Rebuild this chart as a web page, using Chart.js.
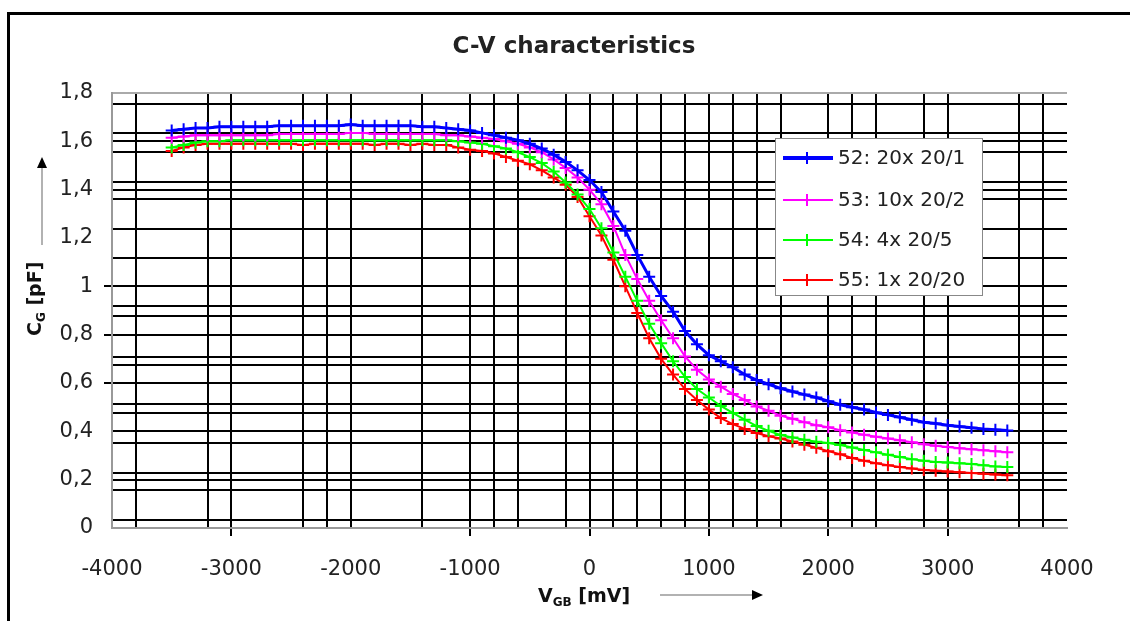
<!DOCTYPE html>
<html>
<head>
<meta charset="utf-8">
<script src="https://cdn.jsdelivr.net/npm/chart.js@4.4.1/dist/chart.umd.min.js"></script>
<style>
  html, body { margin: 0; padding: 0; background: #fff; overflow: hidden; }
  #frame { position: absolute; left: 7px; top: 12px; width: 2000px; height: 2000px;
           border-left: 3px solid #000; border-top: 3px solid #000; }
  #wrap { position: absolute; left: 0; top: 0; width: 1130px; height: 621px; }
</style>
</head>
<body>
<div id="frame"></div>
<div id="wrap"><canvas id="chart" width="1130" height="621"></canvas></div>
<script>
// gate-bulk voltage in mV
var vgb = [-3500, -3400, -3300, -3200, -3100, -3000, -2900, -2800, -2700, -2600,
  -2500, -2400, -2300, -2200, -2100, -2000, -1900, -1800, -1700, -1600,
  -1500, -1400, -1300, -1200, -1100, -1000, -900, -800, -700, -600,
  -500, -400, -300, -200, -100, 0, 100, 200, 300, 400,
  500, 600, 700, 800, 900, 1000, 1100, 1200, 1300, 1400,
  1500, 1600, 1700, 1800, 1900, 2000, 2100, 2200, 2300, 2400,
  2500, 2600, 2700, 2800, 2900, 3000, 3100, 3200, 3300, 3400, 3500];

// gate capacitance in pF
var c52 = [1.645, 1.65, 1.655, 1.655, 1.66, 1.66, 1.66, 1.66, 1.66, 1.665,
  1.665, 1.665, 1.665, 1.665, 1.665, 1.67, 1.665, 1.665, 1.665, 1.665,
  1.665, 1.66, 1.66, 1.655, 1.65, 1.645, 1.635, 1.625, 1.615, 1.605,
  1.59, 1.57, 1.545, 1.515, 1.48, 1.44, 1.39, 1.31, 1.23, 1.13,
  1.04, 0.96, 0.895, 0.815, 0.76, 0.715, 0.69, 0.665, 0.635, 0.612,
  0.595, 0.578, 0.565, 0.552, 0.54, 0.525, 0.51, 0.50, 0.49, 0.478,
  0.468, 0.458, 0.448, 0.438, 0.432, 0.425, 0.42, 0.415, 0.41, 0.407, 0.403];
var c53 = [1.615, 1.62, 1.625, 1.625, 1.625, 1.625, 1.625, 1.625, 1.625, 1.63,
  1.63, 1.63, 1.63, 1.63, 1.63, 1.635, 1.635, 1.63, 1.63, 1.63,
  1.63, 1.63, 1.63, 1.625, 1.625, 1.62, 1.615, 1.61, 1.60, 1.59,
  1.575, 1.555, 1.525, 1.49, 1.45, 1.40, 1.34, 1.25, 1.13, 1.03,
  0.94, 0.86, 0.785, 0.71, 0.655, 0.615, 0.585, 0.555, 0.53, 0.503,
  0.485, 0.465, 0.452, 0.438, 0.425, 0.417, 0.405, 0.395, 0.386, 0.378,
  0.37, 0.363, 0.355, 0.347, 0.34, 0.335, 0.33, 0.326, 0.322, 0.318, 0.313];
var c54 = [1.575, 1.585, 1.595, 1.60, 1.60, 1.605, 1.605, 1.605, 1.605, 1.605,
  1.605, 1.605, 1.605, 1.605, 1.605, 1.605, 1.605, 1.605, 1.605, 1.605,
  1.605, 1.605, 1.605, 1.605, 1.60, 1.595, 1.59, 1.58, 1.57, 1.555,
  1.535, 1.51, 1.475, 1.43, 1.38, 1.32, 1.24, 1.14, 1.04, 0.94,
  0.845, 0.765, 0.69, 0.625, 0.575, 0.54, 0.505, 0.476, 0.448, 0.422,
  0.402, 0.385, 0.375, 0.365, 0.357, 0.352, 0.343, 0.333, 0.323, 0.313,
  0.303, 0.294, 0.285, 0.278, 0.273, 0.271, 0.268, 0.265, 0.26, 0.255, 0.252];
var c55 = [1.56, 1.575, 1.585, 1.59, 1.59, 1.59, 1.59, 1.59, 1.59, 1.59,
  1.59, 1.585, 1.59, 1.59, 1.59, 1.59, 1.59, 1.585, 1.59, 1.59,
  1.585, 1.59, 1.585, 1.585, 1.575, 1.565, 1.56, 1.55, 1.535, 1.52,
  1.505, 1.48, 1.45, 1.42, 1.37, 1.29, 1.21, 1.11, 1.0, 0.89,
  0.785, 0.70, 0.635, 0.575, 0.53, 0.49, 0.455, 0.43, 0.41, 0.393,
  0.38, 0.37, 0.358, 0.345, 0.332, 0.318, 0.305, 0.29, 0.278, 0.268,
  0.26, 0.252, 0.246, 0.24, 0.237, 0.234, 0.231, 0.228, 0.224, 0.221, 0.218];

var seriesLabels = ["52: 20x 20/1", "53: 10x 20/2", "54: 4x 20/5", "55: 1x 20/20"];
var chartTitle = "C-V characteristics";

// tick labels and the (uneven) grid lines of the original sheet
var xLabelValues = [-4000, -3000, -2000, -1000, 0, 1000, 2000, 3000, 4000];
var xGridValues = [-3800, -3200, -3000, -2400, -2200, -2000, -1400, -1000, -800, -600,
  -200, 0, 200, 400, 600, 800, 1000, 1200, 1400, 1600, 2000, 2200, 2400, 2800, 3000, 3600, 3800];
var yLabelValues = [0, 0.2, 0.4, 0.6, 0.8, 1, 1.2, 1.4, 1.6, 1.8];
var yGridValues = [0.033, 0.157, 0.2, 0.228, 0.352, 0.4, 0.476, 0.513, 0.6, 0.674, 0.707,
  0.8, 0.877, 0.918, 1, 1.117, 1.237, 1.361, 1.4, 1.431, 1.556, 1.6, 1.634, 1.754, 1.8];

var FONT = "DejaVu Sans";
var xTickMarks = [-3000, -1000, 0, 1000, 2000, 3000];
var yTickMarks = [0.6, 0.8, 1];

function points(ys) {
  return vgb.map(function(v, i) { return { x: v, y: ys[i] }; });
}

function mergeTicks(a, b) {
  var all = a.concat(b).filter(function(v, i, arr) { return arr.indexOf(v) === i; });
  all.sort(function(p, q) { return p - q; });
  return all.map(function(v) { return { value: v }; });
}

function drawCross(ctx, x, y, r, color, w) {
  ctx.strokeStyle = color;
  ctx.lineWidth = w;
  ctx.beginPath();
  ctx.moveTo(x - r, y); ctx.lineTo(x + r, y);
  ctx.moveTo(x, y - r); ctx.lineTo(x, y + r);
  ctx.stroke();
}

// title, axis titles with subscripts, arrows and the boxed legend inside the plot
var decorations = {
  id: "decorations",
  afterDraw: function(chart) {
    var ctx = chart.ctx;
    ctx.save();

    ctx.fillStyle = "#222";
    ctx.font = "bold 23px " + FONT;
    ctx.textAlign = "center";
    ctx.textBaseline = "middle";
    ctx.fillText(chartTitle, 574, 47);

    // x axis title: V_GB [mV]  ---->
    var xx = 538, xy = 597;
    ctx.fillStyle = "#111";
    ctx.textAlign = "left";
    ctx.font = "bold 19px " + FONT;
    ctx.fillText("V", xx, xy);
    xx += ctx.measureText("V").width;
    ctx.font = "bold 12px " + FONT;
    ctx.fillText("GB", xx, xy + 6);
    xx += ctx.measureText("GB").width;
    ctx.font = "bold 19px " + FONT;
    ctx.fillText(" [mV]", xx, xy);
    ctx.strokeStyle = "#999";
    ctx.lineWidth = 1.5;
    ctx.beginPath(); ctx.moveTo(660, 595); ctx.lineTo(753, 595); ctx.stroke();
    ctx.fillStyle = "#000";
    ctx.beginPath(); ctx.moveTo(752, 590); ctx.lineTo(763, 595); ctx.lineTo(752, 600); ctx.closePath(); ctx.fill();

    // y axis title: C_G [pF], rotated, with arrow above
    ctx.save();
    ctx.translate(36, 336);
    ctx.rotate(-Math.PI / 2);
    var yx = 0;
    ctx.fillStyle = "#111";
    ctx.font = "bold 19px " + FONT;
    ctx.fillText("C", yx, 0);
    yx += ctx.measureText("C").width;
    ctx.font = "bold 12px " + FONT;
    ctx.fillText("G", yx, 6);
    yx += ctx.measureText("G").width;
    ctx.font = "bold 19px " + FONT;
    ctx.fillText(" [pF]", yx, 0);
    ctx.restore();
    ctx.strokeStyle = "#999";
    ctx.lineWidth = 1.5;
    ctx.beginPath(); ctx.moveTo(42, 245); ctx.lineTo(42, 167); ctx.stroke();
    ctx.fillStyle = "#000";
    ctx.beginPath(); ctx.moveTo(37, 168); ctx.lineTo(42, 157); ctx.lineTo(47, 168); ctx.closePath(); ctx.fill();

    // legend box
    var bx = 775, by = 138, bw = 207, bh = 157;
    ctx.fillStyle = "#fff";
    ctx.fillRect(bx, by, bw, bh);
    ctx.strokeStyle = "#888";
    ctx.lineWidth = 1;
    ctx.strokeRect(bx + 0.5, by + 0.5, bw, bh);
    var rows = [158, 200, 240, 280];
    chart.data.datasets.forEach(function(ds, i) {
      var ry = rows[i];
      ctx.strokeStyle = ds.borderColor;
      ctx.lineWidth = i === 0 ? 4 : 2;
      ctx.beginPath(); ctx.moveTo(783, ry); ctx.lineTo(833, ry); ctx.stroke();
      drawCross(ctx, 807, ry, 6, ds.borderColor, 2);
      ctx.fillStyle = "#222";
      ctx.font = "20px " + FONT;
      ctx.textBaseline = "middle";
      ctx.textAlign = "left";
      ctx.fillText(ds.label, 838, ry + 1);
    });
    ctx.restore();
  }
};

var colors = ["#0000FF", "#FF00FF", "#00FF00", "#FF0000"];
var series = [c52, c53, c54, c55];

var chart = new Chart("chart", {
  type: "line",
  data: {
    datasets: series.map(function(s, i) {
      return {
        label: seriesLabels[i],
        data: points(s),
        borderColor: colors[i],
        backgroundColor: colors[i],
        borderWidth: i === 0 ? 3 : 2,
        pointStyle: "cross",
        pointRadius: 6,
        pointBorderWidth: 2,
        fill: false,
        tension: 0
      };
    })
  },
  plugins: [decorations],
  options: {
    responsive: false,
    animation: false,
    layout: { padding: { left: 0, right: 63, top: 93, bottom: 0 } },
    plugins: {
      legend: { display: false },
      tooltip: { enabled: false },
      title: { display: false }
    },
    scales: {
      x: {
        type: "linear",
        min: -4000,
        max: 4000,
        afterBuildTicks: function(scale) {
          scale.ticks = mergeTicks(xGridValues, xLabelValues);
        },
        afterFit: function(scale) { scale.height = 93; },
        ticks: {
          autoSkip: false,
          maxRotation: 0,
          padding: 21,
          color: "#222",
          font: { family: FONT, size: 21 },
          callback: function(v) { return xLabelValues.indexOf(v) >= 0 ? String(v) : ""; }
        },
        grid: {
          lineWidth: 2,
          tickLength: 8,
          tickWidth: 2,
          color: function(c) {
            var v = c.tick && c.tick.value;
            return xGridValues.indexOf(v) >= 0 ? "#000" : "rgba(0,0,0,0)";
          },
          tickColor: function(c) {
            var v = c.tick && c.tick.value;
            return xTickMarks.indexOf(v) >= 0 ? "#000" : "rgba(0,0,0,0)";
          }
        },
        border: { display: true, color: "#999", width: 2 }
      },
      y: {
        type: "linear",
        min: 0,
        max: 1.8,
        afterBuildTicks: function(scale) {
          scale.ticks = mergeTicks(yGridValues, yLabelValues);
        },
        afterFit: function(scale) { scale.width = 112; },
        ticks: {
          autoSkip: false,
          padding: 11,
          color: "#222",
          font: { family: FONT, size: 21 },
          callback: function(v) {
            return yLabelValues.indexOf(v) >= 0 ? String(v).replace(".", ",") : "";
          }
        },
        grid: {
          lineWidth: 2,
          tickLength: 8,
          tickWidth: 2,
          color: function(c) {
            var v = c.tick && c.tick.value;
            if (v === 1.8) return "#aaa";
            return yGridValues.indexOf(v) >= 0 ? "#000" : "rgba(0,0,0,0)";
          },
          tickColor: function(c) {
            var v = c.tick && c.tick.value;
            return yTickMarks.indexOf(v) >= 0 ? "#000" : "rgba(0,0,0,0)";
          }
        },
        border: { display: true, color: "#999", width: 2 }
      }
    }
  }
});
</script>
</body>
</html>
